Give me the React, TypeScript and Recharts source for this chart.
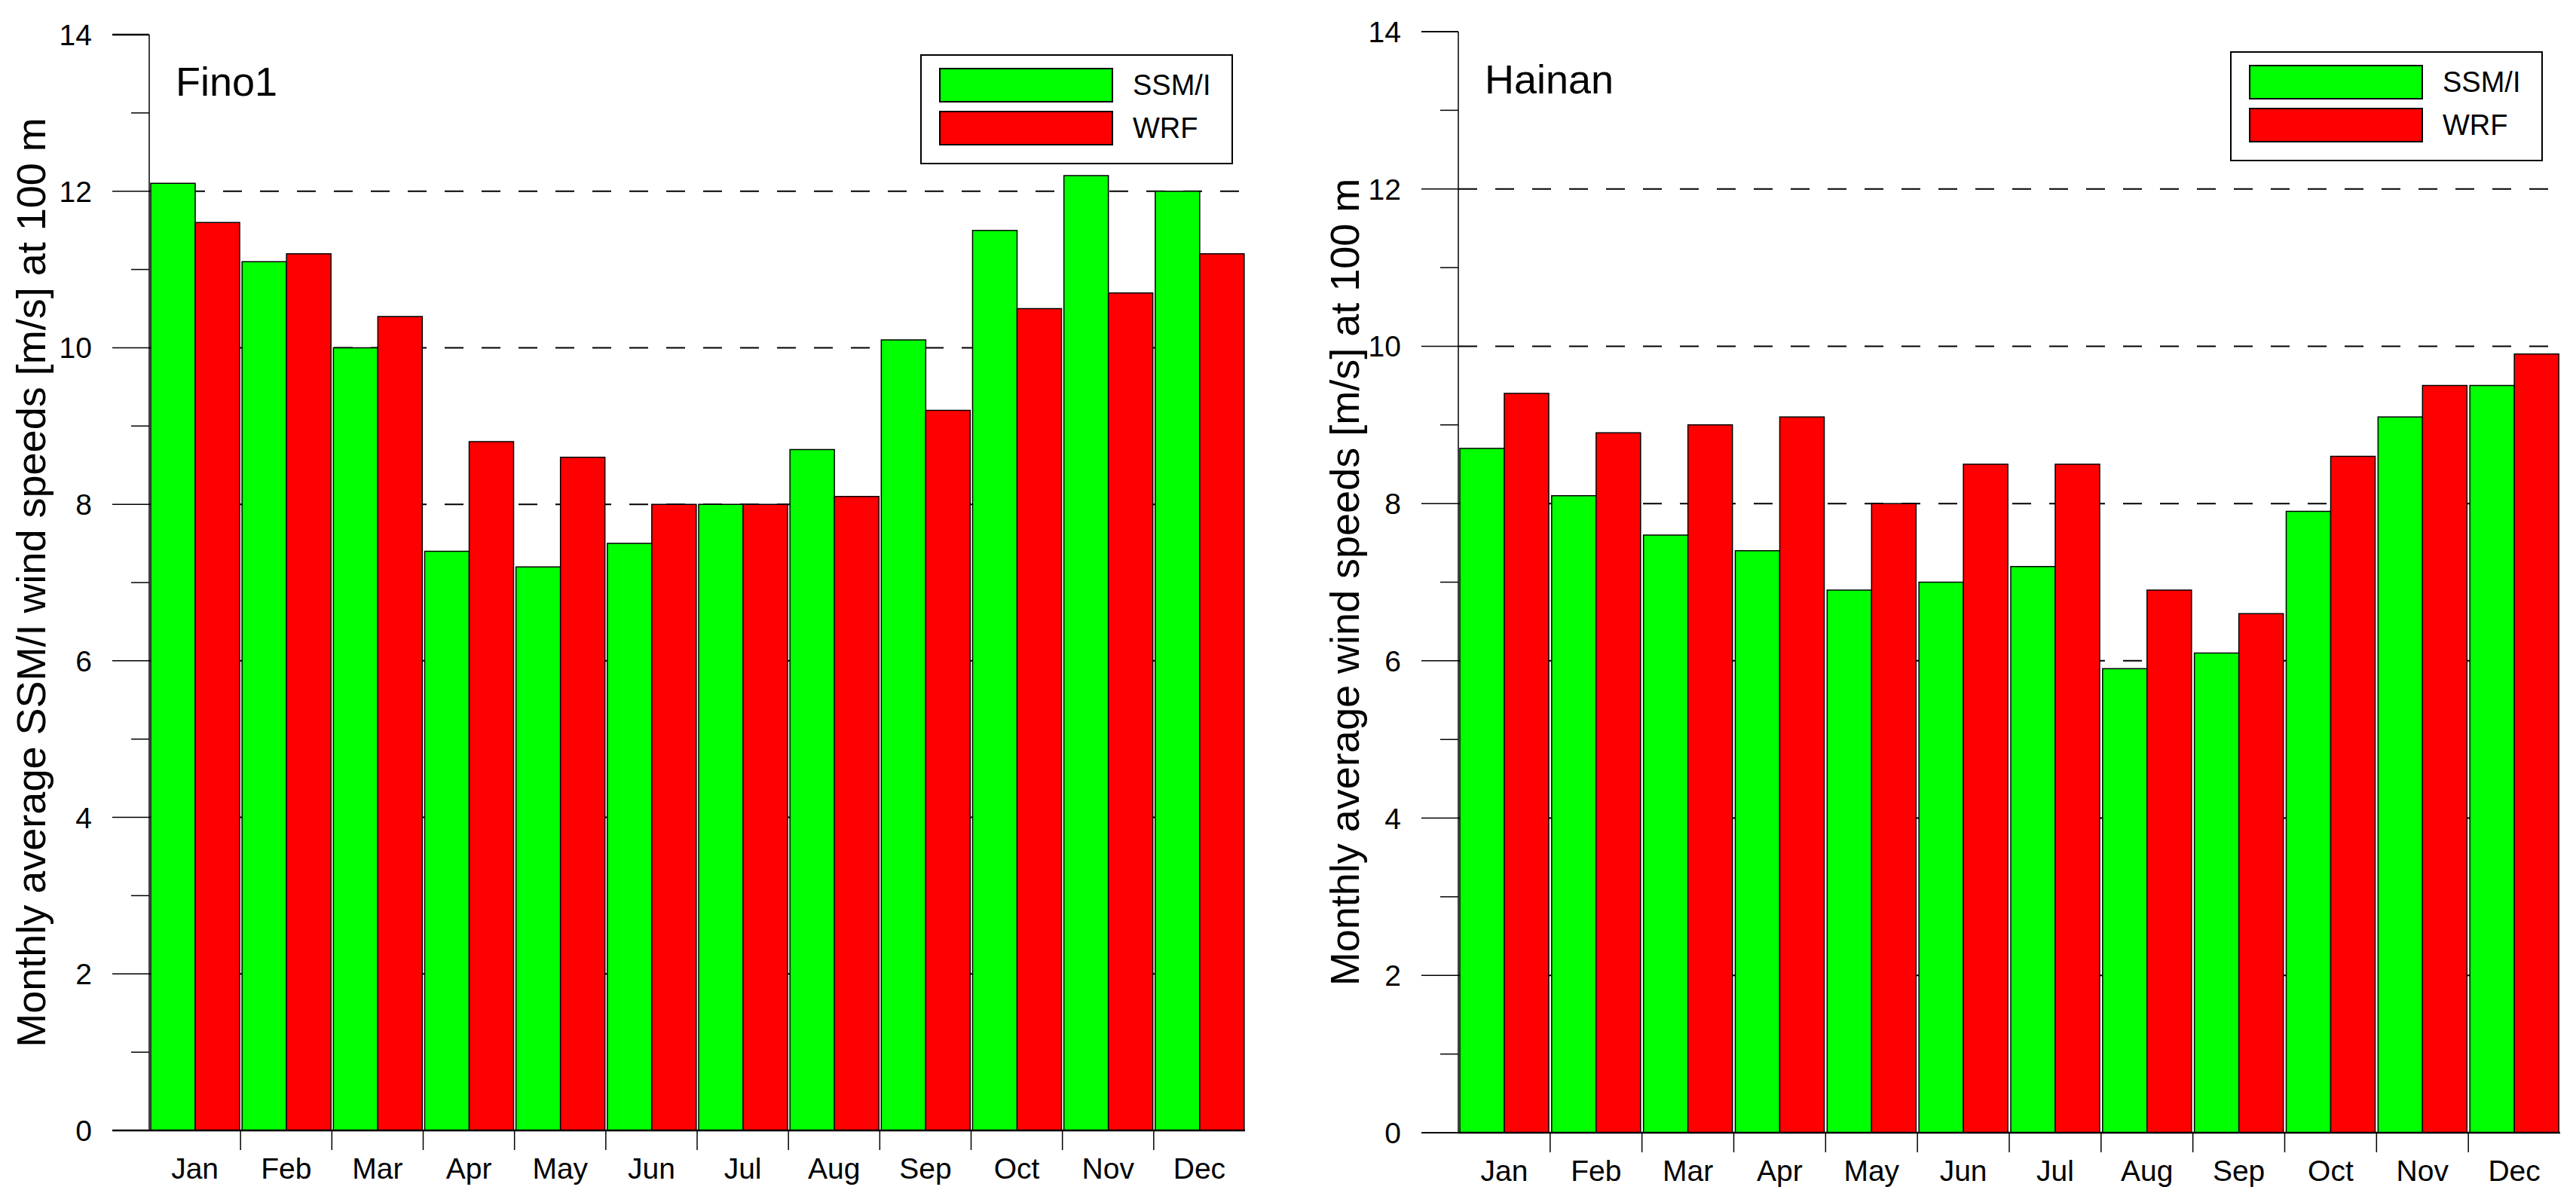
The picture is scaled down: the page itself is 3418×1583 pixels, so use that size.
import React from "react";
import {
  BarChart,
  Bar,
  XAxis,
  YAxis,
  CartesianGrid,
  Legend,
  Customized,
} from "recharts";

const months = ["Jan", "Feb", "Mar", "Apr", "May", "Jun", "Jul", "Aug", "Sep", "Oct", "Nov", "Dec"];
const fino1Ssmi = [12.1, 11.1, 10.0, 7.4, 7.2, 7.5, 8.0, 8.7, 10.1, 11.5, 12.2, 12.0];
const fino1Wrf = [11.6, 11.2, 10.4, 8.8, 8.6, 8.0, 8.0, 8.1, 9.2, 10.5, 10.7, 11.2];
const hainanSsmi = [8.7, 8.1, 7.6, 7.4, 6.9, 7.0, 7.2, 5.9, 6.1, 7.9, 9.1, 9.5];
const hainanWrf = [9.4, 8.9, 9.0, 9.1, 8.0, 8.5, 8.5, 6.9, 6.6, 8.6, 9.5, 9.9];
const yTicks = [0, 1, 2, 3, 4, 5, 6, 7, 8, 9, 10, 11, 12, 13, 14];
const gridValues = [2, 4, 6, 8, 10, 12];

const FONT = "'Liberation Sans', Arial, Helvetica, sans-serif";
const GREEN = "#00FF00";
const RED = "#FF0000";

function makeYTick(heavyWidth: number) {
  return function YTick(props: any) {
    const { x, y, payload } = props;
    const v = payload.value;
    const major = v % 2 === 0;
    const len = major ? 49 : 24;
    const heavy = v === 0 || v === 14;
    return (
      <g>
        <line x1={x - len} x2={x} y1={y} y2={y} stroke="#000" strokeWidth={heavy ? heavyWidth : 1.5} />
        {major && (
          <text x={x - 76} y={y} dy="0.36em" textAnchor="end" fontSize={39} fontFamily={FONT} fill="#000">
            {v}
          </text>
        )}
      </g>
    );
  };
}

function makeXTick(band: number) {
  return function XTick(props: any) {
    const { x, y, payload, index } = props;
    const edge = x - band / 2;
    return (
      <g>
        {index > 0 && <line x1={edge} x2={edge} y1={y} y2={y + 26} stroke="#000" strokeWidth={1.5} />}
        <text x={x} y={y + 64} textAnchor="middle" fontSize={39} fontFamily={FONT} fill="#000">
          {payload.value}
        </text>
      </g>
    );
  };
}

function LegendBox(props: any) {
  const { payload = [], width, height } = props;
  return (
    <div
      style={{
        position: "relative",
        width,
        height,
        boxSizing: "border-box",
        border: "2px solid #000",
        background: "#fff",
        fontFamily: FONT,
      }}
    >
      {payload.map((entry: any, i: number) => (
        <div key={entry.value} style={{ position: "absolute", left: 23, top: 16 + i * 57, height: 46, display: "flex", alignItems: "center" }}>
          <div style={{ width: 231, height: 46, boxSizing: "border-box", background: entry.color, border: "2px solid #000" }} />
          <span style={{ marginLeft: 26, fontSize: 38, lineHeight: "46px", color: "#000" }}>{entry.value}</span>
        </div>
      ))}
    </div>
  );
}

type PanelProps = {
  left: number;
  width: number;
  top: number;
  bottomAxis: number;
  axisWidth: number;
  right: number;
  title: string;
  titleX: number;
  titleY: number;
  yLabel: string;
  yLabelX: number;
  legendLeft: number;
  legendTop: number;
  topLine: number;
  ssmi: number[];
  wrf: number[];
};

function Panel(p: PanelProps) {
  const height = 1583;
  const data = months.map((m, i) => ({ month: m, ssmi: p.ssmi[i], wrf: p.wrf[i] }));
  const plotW = p.width - p.axisWidth - p.right;
  const plotH = height - p.top - p.bottomAxis;
  const band = plotW / months.length;
  const cy = p.top + plotH / 2;
  return (
    <div style={{ position: "absolute", left: p.left, top: 0 }}>
      <BarChart
        width={p.width}
        height={height}
        data={data}
        margin={{ top: p.top, right: p.right, bottom: 0, left: 0 }}
        barCategoryGap={2}
        barGap={0}
      >
        <CartesianGrid
          vertical={false}
          horizontalValues={gridValues}
          stroke="#000"
          strokeWidth={2}
          strokeDasharray="25 24"
        />
        <XAxis
          dataKey="month"
          height={p.bottomAxis}
          interval={0}
          tickSize={0}
          tickMargin={0}
          tickLine={false}
          axisLine={{ stroke: "#000", strokeWidth: 2.5 }}
          tick={makeXTick(band)}
        />
        <XAxis
          xAxisId="top"
          dataKey="month"
          orientation="top"
          height={0}
          tick={false}
          tickLine={false}
          axisLine={{ stroke: "#000", strokeWidth: p.topLine }}
        />
        <YAxis
          type="number"
          domain={[0, 14]}
          ticks={yTicks}
          interval={0}
          width={p.axisWidth}
          tickSize={0}
          tickMargin={0}
          tickLine={false}
          axisLine={{ stroke: "#000", strokeWidth: 1.5 }}
          tick={makeYTick(p.topLine)}
        />
        <YAxis
          yAxisId="right"
          orientation="right"
          type="number"
          domain={[0, 14]}
          width={0}
          tick={false}
          tickLine={false}
          axisLine={{ stroke: "#000", strokeWidth: 1.5 }}
        />
        <Legend
          layout="vertical"
          align="center"
          verticalAlign="middle"
          wrapperStyle={{ left: p.legendLeft, top: p.legendTop, width: 415, height: 146 }}
          content={(lp: any) => <LegendBox {...lp} width={415} height={146} />}
        />
        <Bar dataKey="ssmi" name="SSM/I" fill={GREEN} stroke="#000" strokeWidth={1.5} isAnimationActive={false} />
        <Bar dataKey="wrf" name="WRF" fill={RED} stroke="#000" strokeWidth={1.5} isAnimationActive={false} />
        <Customized
          component={() => (
            <g>
              <text x={p.titleX} y={p.titleY} fontSize={54} fontFamily={FONT} fill="#000">
                {p.title}
              </text>
              <text
                transform={`translate(${p.yLabelX},${cy}) rotate(-90)`}
                textAnchor="middle"
                fontSize={54}
                fontFamily={FONT}
                fill="#000"
              >
                {p.yLabel}
              </text>
            </g>
          )}
        />
      </BarChart>
    </div>
  );
}

export default function App() {
  return (
    <div style={{ position: "relative", width: 3418, height: 1583, background: "#fff", overflow: "hidden" }}>
      <style>{"body{margin:0;background:#fff}"}</style>
      <Panel
        left={0}
        width={1700}
        top={46}
        bottomAxis={83}
        axisWidth={198}
        right={48}
        title="Fino1"
        titleX={233}
        titleY={127}
        yLabel="Monthly average SSM/I wind speeds [m/s] at 100 m"
        yLabelX={60}
        legendLeft={1221}
        legendTop={72}
        topLine={2.7}
        ssmi={fino1Ssmi}
        wrf={fino1Wrf}
      />
      <Panel
        left={1709}
        width={1709}
        top={42}
        bottomAxis={80}
        axisWidth={226}
        right={21}
        title="Hainan"
        titleX={261}
        titleY={124}
        yLabel="Monthly average wind speeds [m/s] at 100 m"
        yLabelX={94}
        legendLeft={1250}
        legendTop={68}
        topLine={2}
        ssmi={hainanSsmi}
        wrf={hainanWrf}
      />
    </div>
  );
}
